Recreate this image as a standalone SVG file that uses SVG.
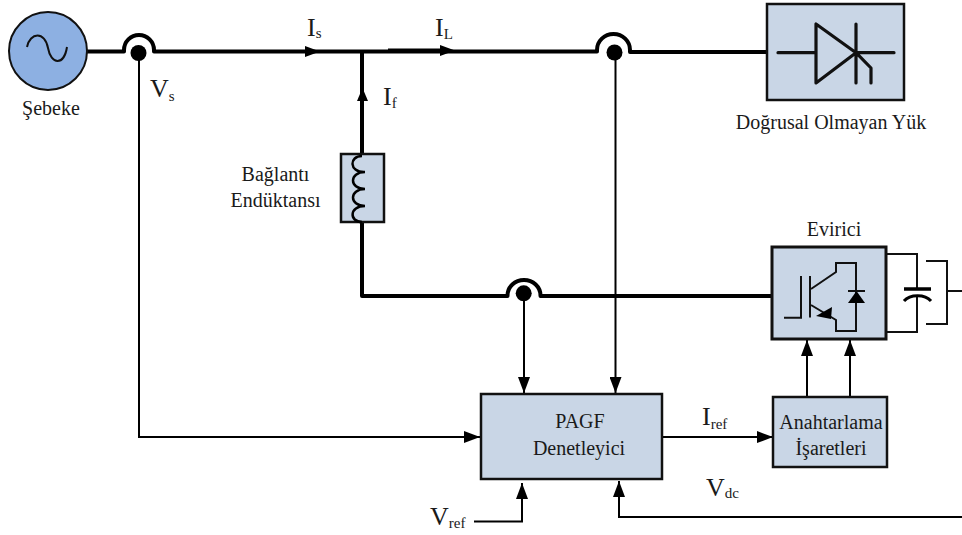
<svg xmlns="http://www.w3.org/2000/svg" width="962" height="535" viewBox="0 0 962 535">
<style>
text{font-family:"Liberation Serif","Times New Roman",serif;fill:#1a1a1a}
.l{font-size:20px}
.m{font-size:26px}
.s{font-size:15px}
.c{text-anchor:middle}
.box{fill:#c9d6e6;stroke:#111;stroke-linejoin:miter}
.p{fill:none;stroke:#000;stroke-width:4;stroke-linejoin:round}
.t{fill:none;stroke:#000;stroke-width:2}
.g{fill:none;stroke:#111;stroke-width:2}
.g3{fill:none;stroke:#111;stroke-width:3.2;stroke-linecap:round;stroke-linejoin:round}
</style>
<defs>
<marker id="a" markerUnits="userSpaceOnUse" markerWidth="16" markerHeight="12" refX="16" refY="6" orient="auto"><path d="M0 0L16 6L0 12Z" fill="#000"/></marker>
</defs>
<g id="connectors">
<path class="p" d="M87 51.500H124V50A15 15 0 0 1 154 50V51.500H597V50A16.500 16 0 0 1 630 50V52H768"/>
<path class="p" d="M388 50.500H446"/>
<path class="p" d="M362 52V155"/>
<path class="p" d="M362 222V296H507.500V295.500A16.500 15.500 0 0 1 540.500 295.500V296H772"/>
<path class="t" d="M139 54V437H480" marker-end="url(#a)"/>
<path class="t" d="M524 290V393" marker-end="url(#a)"/>
<path class="t" d="M615.500 50V393" marker-end="url(#a)"/>
<path class="t" d="M474 521.500H522V483" marker-end="url(#a)"/>
<path class="t" d="M962 517H619V481" marker-end="url(#a)"/>
<path class="t" d="M660 437H773" marker-end="url(#a)"/>
<path class="t" d="M807 397V340" marker-end="url(#a)" stroke-width="2.500"/>
<path class="t" d="M850 397V340" marker-end="url(#a)"/>
<path d="M305 46V57L320 51.500Z" fill="#000"/>
<path d="M440 45V56L455 50.500Z" fill="#000"/>
<path d="M362.500 88L368 101H357Z" fill="#000"/>
</g>
<g id="source">
<circle cx="48" cy="51" r="39" fill="#8db0e2" stroke="#111" stroke-width="2"/>
<path d="M27 47C30 32 45 31 48 48C51 65 64 66 67 47" fill="none" stroke="#111" stroke-width="2"/>
<text class="l c" x="51" y="115">Şebeke</text>
</g>
<g id="junction-1"><circle cx="138.500" cy="53" r="8"/></g>
<g id="junction-2"><circle cx="614.500" cy="52.500" r="8"/></g>
<g id="junction-3"><circle cx="523.700" cy="293.300" r="8"/></g>
<g id="load">
<rect class="box" x="767" y="4" width="137" height="96" stroke-width="2.500"/>
<path class="g3" d="M778 52.700H816M816 24V83L856 52.700Z M856 24V83M856 52.700H894M856 52.700L871 68V83"/>
<text class="l c" x="831" y="129">Doğrusal Olmayan Yük</text>
</g>
<g id="inductor">
<rect class="box" x="341" y="154" width="43" height="68" stroke-width="2.500"/>
<path d="M362 156C349 156 349 172 364 172H365C349 172 349 189 365 189C349 189 349 206 365 206C349 206 349 222 362 222" fill="none" stroke="#000" stroke-width="2.500"/>
<text class="l c" x="275.500" y="181">Bağlantı</text>
<text class="l c" x="275.500" y="207">Endüktansı</text>
</g>
<g id="inverter">
<rect class="box" x="772" y="247" width="114" height="92" stroke-width="3"/>
<text class="l c" x="834" y="236">Evirici</text>
<path class="g" d="M784 317.700H801V276M810 276V317.500M811 289L836 272V263H856V331H836V320L811 305" stroke-width="2.200"/>
<path d="M816 316L832 307L831 319Z" fill="#000"/>
<path d="M848 303H865L856.500 291Z" fill="#000"/>
<path class="g" d="M848 291H865"/>
<path class="g" d="M886 254H917V289M917 297V332H886"/>
<path d="M904 289H931" stroke="#000" stroke-width="3.500" fill="none"/>
<path d="M904 301C910 294 925 294 931 301" stroke="#000" stroke-width="3" fill="none"/>
<path class="g" d="M926 261H947V324H926M947 291H962"/>
</g>
<g id="controller">
<rect class="box" x="481" y="394" width="181" height="85" stroke-width="2.500"/>
<text class="l c" x="580" y="428">PAGF</text>
<text class="l c" x="579" y="455">Denetleyici</text>
</g>
<g id="switching">
<rect class="box" x="773" y="397" width="114" height="70" stroke-width="2.500"/>
<text class="l c" x="831" y="429">Anahtarlama</text>
<text class="l c" x="831" y="455">İşaretleri</text>
</g>
<g id="labels">
<text class="m" x="150" y="97">V<tspan class="s" dy="4">s</tspan></text>
<text class="m" x="307" y="36">I<tspan class="s" dy="2">s</tspan></text>
<text class="m" x="435" y="36">I<tspan class="s" dy="3">L</tspan></text>
<text class="m" x="383" y="105">I<tspan class="s" dy="3">f</tspan></text>
<text class="m" x="702" y="425">I<tspan class="s" dy="4">ref</tspan></text>
<text class="m" x="706" y="496">V<tspan class="s" dy="2">dc</tspan></text>
<text class="m" x="430" y="525">V<tspan class="s" dy="3">ref</tspan></text>
</g>
</svg>
